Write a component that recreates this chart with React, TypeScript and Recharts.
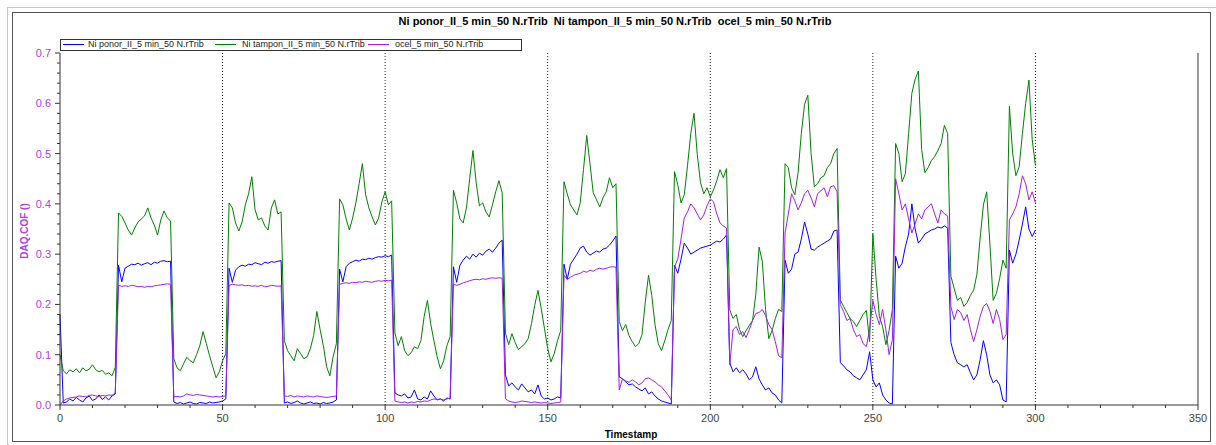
import { LineChart, Line, XAxis, YAxis, ReferenceLine } from "recharts";

// DAQ.COF values, one sample per timestamp unit (0..300), grouped by load cycle
const blueCof = [
  0.18, 0.004, 0.006, 0.012, 0.008, 0.015, 0.010, 0.006, 0.014, 0.018, 0.009, 0.012, 0.020, 0.011, 0.016, 0.010, 0.018, 0.022,
  0.278, 0.245, 0.272, 0.276, 0.280, 0.279, 0.282, 0.278, 0.281, 0.283, 0.279, 0.284, 0.282, 0.286, 0.287, 0.285, 0.286,
  0.006, 0.003, 0.005, 0.002, 0.004, 0.006, 0.003, 0.002, 0.005, 0.004, 0.003, 0.006, 0.004, 0.005, 0.006, 0.008, 0.012,
  0.272, 0.244, 0.268, 0.275, 0.278, 0.276, 0.280, 0.279, 0.283, 0.281, 0.279, 0.284, 0.282, 0.285, 0.284, 0.286, 0.287,
  0.004, 0.006, 0.003, 0.005, 0.008, 0.004, 0.002, 0.004, 0.006, 0.003, 0.004, 0.002, 0.005, 0.003, 0.004, 0.006, 0.010,
  0.270, 0.245, 0.275, 0.282, 0.285, 0.288, 0.286, 0.290, 0.289, 0.292, 0.290, 0.293, 0.295, 0.294, 0.297, 0.295, 0.298,
  0.024, 0.020, 0.018, 0.022, 0.014, 0.016, 0.030, 0.012, 0.010, 0.016, 0.012, 0.028, 0.018, 0.010, 0.012, 0.008, 0.014, 0.012,
  0.275, 0.244, 0.278, 0.288, 0.296, 0.290, 0.300, 0.294, 0.302, 0.298, 0.306, 0.310, 0.304, 0.312, 0.322, 0.328,
  0.060, 0.038, 0.044, 0.036, 0.030, 0.042, 0.034, 0.026, 0.030, 0.022, 0.040, 0.018, 0.012, 0.014, 0.010, 0.012, 0.016, 0.014,
  0.280, 0.250, 0.280, 0.290, 0.300, 0.312, 0.316, 0.304, 0.298, 0.302, 0.306, 0.304, 0.310, 0.312, 0.318, 0.326, 0.336,
  0.056, 0.052, 0.046, 0.040, 0.042, 0.036, 0.032, 0.028, 0.034, 0.022, 0.026, 0.018, 0.012, 0.008, 0.006, 0.004, 0.002,
  0.278, 0.262, 0.290, 0.322, 0.312, 0.300, 0.304, 0.308, 0.312, 0.314, 0.316, 0.318, 0.322, 0.326, 0.324, 0.330, 0.338,
  0.084, 0.066, 0.074, 0.064, 0.070, 0.062, 0.050, 0.056, 0.076, 0.052, 0.040, 0.030, 0.034, 0.024, 0.020, 0.010, 0.004,
  0.288, 0.262, 0.270, 0.300, 0.304, 0.330, 0.364, 0.340, 0.310, 0.308, 0.314, 0.318, 0.322, 0.326, 0.330, 0.346, 0.348,
  0.084, 0.078, 0.070, 0.066, 0.058, 0.054, 0.050, 0.060, 0.070, 0.106, 0.050, 0.036, 0.044, 0.020, 0.010, 0.004, 0.002,
  0.296, 0.272, 0.282, 0.315, 0.340, 0.400, 0.350, 0.322, 0.330, 0.340, 0.344, 0.348, 0.350, 0.354, 0.352, 0.356, 0.352,
  0.124, 0.100, 0.084, 0.080, 0.076, 0.080, 0.064, 0.050, 0.060, 0.090, 0.128, 0.100, 0.060, 0.044, 0.050, 0.040, 0.010, 0.006,
  0.308, 0.282, 0.300, 0.328, 0.360, 0.394, 0.350, 0.335, 0.348,
];

const greenCof = [
  0.100, 0.068, 0.062, 0.070, 0.066, 0.072, 0.064, 0.074, 0.068, 0.071, 0.080, 0.070, 0.066, 0.069, 0.061, 0.064, 0.058, 0.075,
  0.382, 0.375, 0.362, 0.348, 0.338, 0.352, 0.364, 0.370, 0.376, 0.392, 0.372, 0.358, 0.338, 0.368, 0.386, 0.372, 0.366,
  0.092, 0.074, 0.068, 0.082, 0.095, 0.088, 0.084, 0.100, 0.118, 0.146, 0.122, 0.098, 0.076, 0.054, 0.066, 0.088, 0.102,
  0.402, 0.392, 0.362, 0.346, 0.364, 0.398, 0.420, 0.454, 0.388, 0.368, 0.372, 0.356, 0.348, 0.392, 0.408, 0.380, 0.384,
  0.128, 0.108, 0.098, 0.088, 0.112, 0.102, 0.092, 0.096, 0.112, 0.138, 0.186, 0.150, 0.118, 0.076, 0.058, 0.096, 0.122,
  0.410, 0.398, 0.370, 0.348, 0.372, 0.402, 0.440, 0.480, 0.418, 0.392, 0.374, 0.358, 0.372, 0.404, 0.424, 0.398, 0.406,
  0.143, 0.118, 0.136, 0.108, 0.098, 0.104, 0.116, 0.112, 0.128, 0.176, 0.208, 0.162, 0.128, 0.096, 0.072, 0.088, 0.118, 0.136,
  0.427, 0.402, 0.370, 0.362, 0.392, 0.450, 0.506, 0.442, 0.396, 0.402, 0.384, 0.374, 0.398, 0.424, 0.446, 0.422,
  0.143, 0.120, 0.142, 0.124, 0.110, 0.116, 0.122, 0.132, 0.162, 0.198, 0.228, 0.192, 0.152, 0.112, 0.086, 0.102, 0.128, 0.148,
  0.444, 0.420, 0.398, 0.388, 0.378, 0.402, 0.468, 0.536, 0.480, 0.422, 0.408, 0.394, 0.412, 0.424, 0.452, 0.432, 0.440,
  0.166, 0.148, 0.160, 0.138, 0.126, 0.116, 0.122, 0.140, 0.204, 0.258, 0.218, 0.160, 0.122, 0.108, 0.128, 0.150, 0.168,
  0.464, 0.438, 0.402, 0.418, 0.476, 0.540, 0.580, 0.498, 0.442, 0.420, 0.432, 0.414, 0.428, 0.446, 0.468, 0.452, 0.470,
  0.189, 0.172, 0.180, 0.150, 0.136, 0.148, 0.158, 0.168, 0.220, 0.314, 0.286, 0.190, 0.132, 0.148, 0.172, 0.190, 0.186,
  0.480, 0.472, 0.432, 0.418, 0.462, 0.540, 0.598, 0.616, 0.500, 0.434, 0.440, 0.452, 0.456, 0.472, 0.480, 0.500, 0.510,
  0.209, 0.196, 0.184, 0.172, 0.166, 0.156, 0.168, 0.180, 0.188, 0.126, 0.340, 0.250, 0.176, 0.156, 0.120, 0.148, 0.190,
  0.520, 0.500, 0.444, 0.460, 0.540, 0.620, 0.648, 0.664, 0.508, 0.462, 0.472, 0.486, 0.494, 0.506, 0.520, 0.556, 0.540,
  0.256, 0.232, 0.208, 0.214, 0.196, 0.204, 0.218, 0.228, 0.260, 0.332, 0.398, 0.424, 0.320, 0.208, 0.222, 0.252, 0.288, 0.272,
  0.594, 0.500, 0.456, 0.474, 0.540, 0.600, 0.646, 0.528, 0.476,
];

const purpleCof = [
  0.000, 0.008, 0.012, 0.014, 0.015, 0.016, 0.018, 0.017, 0.016, 0.019, 0.020, 0.018, 0.017, 0.019, 0.018, 0.020, 0.019, 0.024,
  0.238, 0.236, 0.237, 0.236, 0.238, 0.237, 0.235, 0.236, 0.234, 0.236, 0.235, 0.237, 0.238, 0.239, 0.240, 0.241, 0.240,
  0.016, 0.017, 0.016, 0.018, 0.022, 0.020, 0.019, 0.021, 0.020, 0.019, 0.018, 0.017, 0.016, 0.017, 0.016, 0.017, 0.018,
  0.238, 0.240, 0.239, 0.238, 0.239, 0.237, 0.238, 0.236, 0.237, 0.236, 0.238, 0.235, 0.236, 0.238, 0.237, 0.236, 0.237,
  0.018, 0.017, 0.019, 0.016, 0.018, 0.017, 0.016, 0.018, 0.017, 0.016, 0.018, 0.017, 0.016, 0.015, 0.016, 0.017, 0.018,
  0.240, 0.242, 0.243, 0.242, 0.244, 0.243, 0.245, 0.244, 0.246, 0.245, 0.244, 0.246, 0.247, 0.246, 0.248, 0.247, 0.248,
  0.008, 0.006, 0.005, 0.006, 0.004, 0.006, 0.005, 0.007, 0.006, 0.008, 0.007, 0.010, 0.012, 0.011, 0.012, 0.010, 0.012, 0.014,
  0.240, 0.238, 0.240, 0.243, 0.245, 0.247, 0.249, 0.250, 0.249, 0.251, 0.250, 0.252, 0.253, 0.252, 0.253, 0.252,
  0.012, 0.008, 0.006, 0.005, 0.006, 0.008, 0.007, 0.006, 0.005, 0.006, 0.005, 0.004, 0.005, 0.004, 0.003, 0.004, 0.005, 0.006,
  0.258, 0.250, 0.254, 0.258, 0.260, 0.262, 0.266, 0.264, 0.268, 0.266, 0.270, 0.272, 0.270, 0.272, 0.274, 0.275, 0.274,
  0.030, 0.052, 0.048, 0.045, 0.050, 0.046, 0.040, 0.044, 0.052, 0.054, 0.050, 0.046, 0.040, 0.036, 0.028, 0.020, 0.010,
  0.275, 0.290, 0.330, 0.372, 0.384, 0.400, 0.392, 0.380, 0.368, 0.378, 0.396, 0.410, 0.404, 0.380, 0.362, 0.356, 0.352,
  0.080, 0.150, 0.156, 0.140, 0.146, 0.134, 0.150, 0.168, 0.182, 0.184, 0.190, 0.178, 0.160, 0.150, 0.126, 0.098, 0.094,
  0.342, 0.380, 0.420, 0.406, 0.388, 0.402, 0.420, 0.427, 0.412, 0.394, 0.420, 0.426, 0.432, 0.414, 0.434, 0.436, 0.424,
  0.200, 0.186, 0.168, 0.172, 0.150, 0.136, 0.140, 0.122, 0.116, 0.150, 0.208, 0.180, 0.160, 0.190, 0.150, 0.100, 0.130,
  0.450, 0.420, 0.388, 0.400, 0.370, 0.342, 0.360, 0.380, 0.370, 0.388, 0.394, 0.400, 0.380, 0.362, 0.388, 0.380, 0.376,
  0.196, 0.170, 0.190, 0.184, 0.168, 0.180, 0.150, 0.126, 0.150, 0.176, 0.196, 0.202, 0.186, 0.162, 0.190, 0.170, 0.130, 0.140,
  0.368, 0.380, 0.394, 0.420, 0.456, 0.440, 0.408, 0.424, 0.402,
];

const seriesNames = [
  "Ni ponor_II_5 min_50 N.rTrib",
  "Ni tampon_II_5 min_50 N.rTrib",
  "ocel_5 min_50 N.rTrib",
];
const seriesColors = ["#0000ff", "#008000", "#a020e0"];

const xTicks = [0, 10, 20, 30, 40, 50, 60, 70, 80, 90, 100, 110, 120, 130, 140, 150, 160, 170,
  180, 190, 200, 210, 220, 230, 240, 250, 260, 270, 280, 290, 300, 310, 320, 330, 340, 350];
const yTicks = [0, 0.02, 0.04, 0.06, 0.08, 0.1, 0.12, 0.14, 0.16, 0.18, 0.2, 0.22, 0.24, 0.26, 0.28,
  0.3, 0.32, 0.34, 0.36, 0.38, 0.4, 0.42, 0.44, 0.46, 0.48, 0.5, 0.52, 0.54, 0.56, 0.58, 0.6,
  0.62, 0.64, 0.66, 0.68, 0.7];
const dottedGridX = [50, 100, 150, 200, 250, 300];

const rows = blueCof.map((b, i) => ({
  t: i,
  blue: b,
  green: greenCof[i],
  purple: purpleCof[i],
}));

const FONT = "'Liberation Sans', Arial, sans-serif";
const AXIS = "#333";
const LABEL_PURPLE = "#b040e0";

const isMajorX = (v: number) => v % 50 === 0;
const isMajorY = (v: number) => Math.abs(v * 10 - Math.round(v * 10)) < 1e-6;

function BottomTick({ x, y, payload }: any) {
  const major = isMajorX(payload.value);
  return (
    <g>
      <line x1={x} y1={y} x2={x} y2={y + (major ? 5 : 3)} stroke={AXIS} />
      {major && (
        <text x={x} y={y + 17} textAnchor="middle" fontSize={11} fill="#444" fontFamily={FONT}>
          {payload.value}
        </text>
      )}
    </g>
  );
}

function TopTick({ x, y, payload }: any) {
  const major = isMajorX(payload.value);
  return <line x1={x} y1={y} x2={x} y2={y + (major ? 5 : 3)} stroke={AXIS} />;
}

function LeftTick({ x, y, payload }: any) {
  const major = isMajorY(payload.value);
  return (
    <g>
      <line x1={x - (major ? 5 : 3)} y1={y} x2={x} y2={y} stroke={AXIS} />
      {major && (
        <text x={x - 9} y={y + 4} textAnchor="end" fontSize={11} fill={LABEL_PURPLE} fontFamily={FONT}>
          {payload.value.toFixed(1)}
        </text>
      )}
    </g>
  );
}

const legendLineX = [63, 215, 368];
const legendTextX = [88, 242, 395];

export default function App() {
  return (
    <div style={{ position: "absolute", left: 0, top: 0, width: 1216, height: 445, background: "#fff", overflow: "hidden", fontFamily: FONT }}>
      {/* outer frames */}
      <div style={{ position: "absolute", left: 7, top: 7, width: 1215, height: 445, border: "1px solid #c8c8c8" }} />
      <div style={{ position: "absolute", left: 12, top: 12, width: 1197, height: 428, border: "1px solid #555" }} />

      <div style={{ position: "absolute", left: 0, top: 15, width: 1230, textAlign: "center", fontSize: 11, fontWeight: "bold", color: "#000", whiteSpace: "pre" }}>
        {seriesNames.join("  ")}
      </div>

      <div style={{ position: "absolute", left: 0, top: 0 }}>
        <LineChart width={1216} height={445} data={rows} margin={{ top: 53, right: 18, bottom: 10, left: 20 }}>
          <XAxis
            dataKey="t"
            type="number"
            domain={[0, 350]}
            ticks={xTicks}
            interval={0}
            tick={<BottomTick />}
            tickLine={false}
            tickSize={0}
            tickMargin={0}
            axisLine={{ stroke: AXIS }}
            height={30}
          />
          <XAxis
            xAxisId="top"
            orientation="top"
            dataKey="t"
            type="number"
            domain={[0, 350]}
            ticks={xTicks}
            interval={0}
            tick={<TopTick />}
            tickLine={false}
            tickSize={0}
            tickMargin={0}
            axisLine={{ stroke: AXIS }}
            height={0}
          />
          <YAxis
            type="number"
            domain={[0, 0.7]}
            ticks={yTicks}
            interval={0}
            tick={<LeftTick />}
            tickLine={false}
            tickSize={0}
            tickMargin={0}
            axisLine={{ stroke: AXIS }}
            width={40}
          />
          {dottedGridX.map((v) => (
            <ReferenceLine key={v} x={v} stroke="#222" strokeDasharray="1 2" />
          ))}
          <ReferenceLine x={350} stroke={AXIS} />
          <Line type="linear" dataKey="blue" stroke={seriesColors[0]} strokeWidth={1} dot={false} isAnimationActive={false} />
          <Line type="linear" dataKey="green" stroke={seriesColors[1]} strokeWidth={1} dot={false} isAnimationActive={false} />
          <Line type="linear" dataKey="purple" stroke={seriesColors[2]} strokeWidth={1} dot={false} isAnimationActive={false} />
        </LineChart>
      </div>

      {/* legend box */}
      <div style={{ position: "absolute", left: 60, top: 39, width: 460, height: 10, border: "1px solid #333", background: "#fff" }} />
      {seriesNames.map((name, i) => (
        <div key={name}>
          <div style={{ position: "absolute", left: legendLineX[i], top: 44, width: 21, height: 1, background: seriesColors[i] }} />
          <div style={{ position: "absolute", left: legendTextX[i], top: 38, fontSize: 9, lineHeight: "12px", color: "#222", whiteSpace: "pre" }}>
            {name}
          </div>
        </div>
      ))}

      <div style={{ position: "absolute", left: 24, top: 231, transform: "translate(-50%, -50%) rotate(-90deg)", fontSize: 10, fontWeight: "bold", color: LABEL_PURPLE, whiteSpace: "pre" }}>
        DAQ.COF ()
      </div>
      <div style={{ position: "absolute", left: 631, top: 429, transform: "translateX(-50%)", fontSize: 10, fontWeight: "bold", color: "#000", whiteSpace: "pre" }}>
        Timestamp
      </div>
    </div>
  );
}
